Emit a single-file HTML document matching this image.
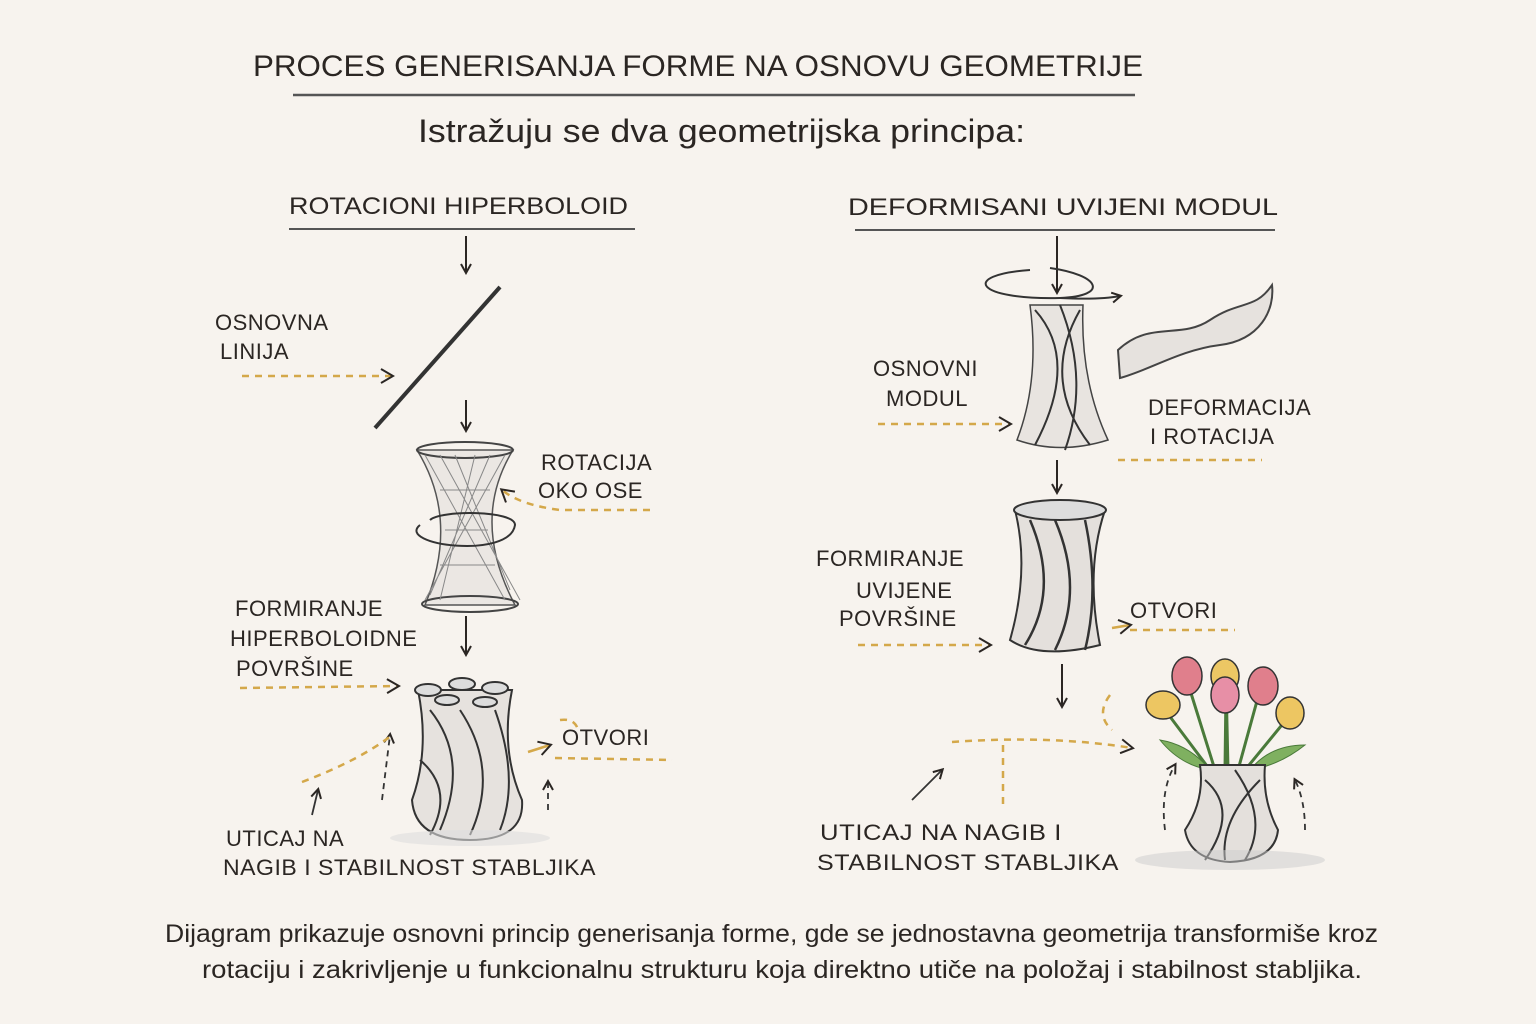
<!DOCTYPE html>
<html><head><meta charset="utf-8"><style>
html,body{margin:0;padding:0;background:#f7f3ee;}
svg{display:block}
text{font-family:"Liberation Sans",sans-serif;fill:#2b2623}
</style></head><body>
<svg width="1536" height="1024" viewBox="0 0 1536 1024" xmlns="http://www.w3.org/2000/svg">
<defs>
<marker id="ah" markerWidth="12" markerHeight="12" refX="9" refY="6" orient="auto" markerUnits="userSpaceOnUse"><path d="M1,1 L10,6 L1,11" fill="none" stroke="#2b2623" stroke-width="2"/></marker>
<marker id="ao" markerWidth="16" markerHeight="16" refX="12" refY="8" orient="auto" markerUnits="userSpaceOnUse"><path d="M1,1 L13,8 L1,15" fill="none" stroke="#2b2623" stroke-width="2"/></marker>
</defs>
<rect width="1536" height="1024" fill="#f7f3ee"/>
<!-- Title -->
<text x="253" y="76" font-size="30" textLength="890" lengthAdjust="spacingAndGlyphs">PROCES GENERISANJA FORME NA OSNOVU GEOMETRIJE</text>
<line x1="293" y1="95" x2="1135" y2="95" stroke="#555" stroke-width="2.5"/>
<text x="418" y="142" font-size="32" textLength="607" lengthAdjust="spacingAndGlyphs">Istražuju se dva geometrijska principa:</text>
<text x="289" y="214" font-size="24" textLength="339" lengthAdjust="spacingAndGlyphs">ROTACIONI HIPERBOLOID</text>
<line x1="289" y1="229" x2="635" y2="229" stroke="#555" stroke-width="2"/>
<text x="848" y="215" font-size="24" textLength="430" lengthAdjust="spacingAndGlyphs">DEFORMISANI UVIJENI MODUL</text>
<line x1="855" y1="230" x2="1275" y2="230" stroke="#555" stroke-width="2"/>

<g stroke="#2b2623" stroke-width="2" fill="none">
<line x1="466" y1="236" x2="466" y2="272" marker-end="url(#ah)"/>
<line x1="466" y1="400" x2="466" y2="430" marker-end="url(#ah)"/>
<line x1="466" y1="616" x2="466" y2="654" marker-end="url(#ah)"/>
<line x1="1057" y1="236" x2="1057" y2="292" marker-end="url(#ah)"/>
<line x1="1057" y1="460" x2="1057" y2="492" marker-end="url(#ah)"/>
<line x1="1062" y1="664" x2="1062" y2="706" marker-end="url(#ah)"/>
</g>

<line x1="375" y1="428" x2="500" y2="287" stroke="#333" stroke-width="4"/>

<g stroke="#555" stroke-width="1.5" fill="#ebe7e3">
<path d="M417,450 Q460,520 425,605 L515,605 Q470,520 513,450 Z"/>
</g>
<ellipse cx="465" cy="450" rx="48" ry="8" fill="none" stroke="#444" stroke-width="2"/>
<ellipse cx="470" cy="604" rx="48" ry="8" fill="none" stroke="#444" stroke-width="2"/>
<g stroke="#888" stroke-width="1" fill="none">
<path d="M425,455 L505,600 M440,455 L520,600 M455,455 L510,590 M505,455 L425,600 M490,455 L430,595 M475,455 L440,600"/>
<path d="M440,490 L490,490 M445,530 L488,530 M440,565 L495,565"/>
</g>
<path d="M420,525 C395,545 510,560 515,525 C515,510 440,510 430,520" fill="none" stroke="#333" stroke-width="2"/>

<path d="M418,690 Q430,750 412,800 Q415,840 470,840 Q525,840 522,800 Q500,750 512,690 Z" fill="#e6e2de" stroke="#333" stroke-width="2"/>
<g fill="#ddd" stroke="#333" stroke-width="2">
<ellipse cx="428" cy="690" rx="13" ry="6"/><ellipse cx="462" cy="684" rx="13" ry="6"/><ellipse cx="495" cy="688" rx="13" ry="6"/><ellipse cx="447" cy="700" rx="12" ry="5"/><ellipse cx="485" cy="702" rx="12" ry="5"/>
</g>
<g stroke="#333" stroke-width="2" fill="none">
<path d="M430,710 Q470,760 440,830 M460,710 Q500,770 470,835 M495,710 Q520,780 500,830 M420,760 Q455,790 430,835"/>
</g>
<ellipse cx="470" cy="838" rx="80" ry="8" fill="#ddd" opacity="0.6"/>

<path d="M1030,305 Q1040,380 1017,440 Q1060,455 1108,440 Q1080,380 1083,305 Z" fill="#e8e4e0" stroke="#444" stroke-width="1.5"/>
<g stroke="#333" stroke-width="2" fill="none">
<path d="M1035,310 Q1080,360 1035,445 M1060,305 Q1090,380 1065,450 M1080,310 Q1040,380 1090,445"/>
<path d="M1030,270 C960,275 975,300 1060,298 C1110,296 1100,275 1050,268" />
<path d="M1060,298 Q1100,300 1120,296" marker-end="url(#ah)"/>
</g>
<path d="M1118,350 C1150,320 1180,340 1210,320 C1240,300 1255,310 1272,285 C1275,310 1260,340 1220,345 C1180,350 1150,370 1120,378 Z" fill="#e6e2de" stroke="#444" stroke-width="2"/>
<path d="M1015,510 Q1030,570 1010,640 Q1040,660 1100,645 Q1085,570 1105,510 Z" fill="#e4e0dc" stroke="#333" stroke-width="2"/>
<ellipse cx="1060" cy="510" rx="46" ry="10" fill="#ddd" stroke="#333" stroke-width="2"/>
<g stroke="#333" stroke-width="2.5" fill="none"><path d="M1030,520 Q1060,590 1025,645 M1055,520 Q1085,590 1055,650 M1085,520 Q1100,590 1085,650"/></g>

<g stroke="#4a7a3a" stroke-width="3" fill="none">
<path d="M1190,690 L1215,770 M1226,690 L1225,770 M1260,690 L1238,770 M1165,710 L1210,770 M1290,715 L1245,770 M1226,680 L1228,770"/>
</g>
<path d="M1160,740 Q1190,745 1210,770 Q1180,765 1160,740Z M1305,745 Q1270,745 1250,770 Q1280,765 1305,745Z" fill="#7fb060" stroke="#4a7a3a"/>
<g stroke="#333" stroke-width="1.5">
<ellipse cx="1187" cy="676" rx="15" ry="19" fill="#e07f8c"/>
<ellipse cx="1225" cy="676" rx="14" ry="17" fill="#ecc764"/>
<ellipse cx="1225" cy="695" rx="14" ry="18" fill="#e78fa6"/>
<ellipse cx="1263" cy="686" rx="15" ry="19" fill="#e07f8c"/>
<ellipse cx="1163" cy="705" rx="17" ry="14" fill="#edc662"/>
<ellipse cx="1290" cy="713" rx="14" ry="16" fill="#edc662"/>
</g>
<path d="M1200,765 Q1205,800 1185,830 Q1190,860 1230,862 Q1275,860 1278,830 Q1262,800 1265,765 Z" fill="#e4e0dc" stroke="#333" stroke-width="2"/>
<g stroke="#333" stroke-width="2" fill="none"><path d="M1205,780 Q1240,810 1205,860 M1235,770 Q1270,820 1245,860 M1260,780 Q1220,820 1225,860"/></g>
<ellipse cx="1230" cy="860" rx="95" ry="10" fill="#ccc" opacity="0.5"/>
<g stroke="#333" stroke-width="1.8" fill="none" stroke-dasharray="6 5">
<path d="M1165,830 Q1160,790 1175,765" marker-end="url(#ah)"/>
<path d="M1305,830 Q1305,800 1295,780" marker-end="url(#ah)"/>
<path d="M382,800 L390,735" marker-end="url(#ah)"/>
<path d="M548,810 L548,782" marker-end="url(#ah)"/>
</g>
<path d="M912,800 L942,770" stroke="#333" stroke-width="1.8" fill="none" marker-end="url(#ah)"/>
<path d="M312,815 L318,790" stroke="#333" stroke-width="1.8" fill="none" marker-end="url(#ah)"/>

<g stroke="#d4a84a" stroke-width="2.5" fill="none" stroke-dasharray="7 6">
<path d="M242,376 L392,376" marker-end="url(#ao)"/>
<path d="M650,510 L560,510 Q520,505 502,490" marker-end="url(#ao)"/>
<path d="M240,688 L398,686" marker-end="url(#ao)"/>
<path d="M555,758 L672,760"/>
<path d="M302,782 Q360,760 392,735"/>
<path d="M878,424 L1010,424" marker-end="url(#ao)"/>
<path d="M1118,460 L1262,460"/>
<path d="M858,645 L990,645" marker-end="url(#ao)"/>
<path d="M1130,630 L1235,630"/>
<path d="M952,742 Q1050,735 1132,748" marker-end="url(#ao)"/>
<path d="M1003,745 L1003,805"/>
<path d="M1110,695 Q1095,715 1112,730"/>
<path d="M560,720 Q575,718 578,730"/>
</g>
<path d="M528,752 L550,745" stroke="#d4a84a" stroke-width="2.5" fill="none" marker-end="url(#ao)"/>
<path d="M1112,628 L1130,625" stroke="#d4a84a" stroke-width="2.5" fill="none" marker-end="url(#ao)"/>

<g font-size="22" letter-spacing="0.5">
<text x="215" y="330">OSNOVNA</text><text x="220" y="359">LINIJA</text>
<text x="541" y="470">ROTACIJA</text><text x="538" y="498">OKO OSE</text>
<text x="235" y="616">FORMIRANJE</text><text x="230" y="646">HIPERBOLOIDNE</text><text x="236" y="676">POVRŠINE</text>
<text x="562" y="745">OTVORI</text>
<text x="226" y="846">UTICAJ NA</text><text x="223" y="875" textLength="373" lengthAdjust="spacingAndGlyphs">NAGIB I STABILNOST STABLJIKA</text>
<text x="873" y="376">OSNOVNI</text><text x="886" y="406">MODUL</text>
<text x="1148" y="415">DEFORMACIJA</text><text x="1150" y="444">I ROTACIJA</text>
<text x="816" y="566">FORMIRANJE</text><text x="856" y="598">UVIJENE</text><text x="839" y="626">POVRŠINE</text>
<text x="1130" y="618">OTVORI</text>
<text x="820" y="840" textLength="242" lengthAdjust="spacingAndGlyphs">UTICAJ NA NAGIB I</text><text x="817" y="870" textLength="302" lengthAdjust="spacingAndGlyphs">STABILNOST STABLJIKA</text>
</g>
<text x="165" y="942" font-size="25" textLength="1213" lengthAdjust="spacingAndGlyphs">Dijagram prikazuje osnovni princip generisanja forme, gde se jednostavna geometrija transformiše kroz</text>
<text x="202" y="978" font-size="25" textLength="1160" lengthAdjust="spacingAndGlyphs">rotaciju i zakrivljenje u funkcionalnu strukturu koja direktno utiče na položaj i stabilnost stabljika.</text>
</svg>
</body></html>
